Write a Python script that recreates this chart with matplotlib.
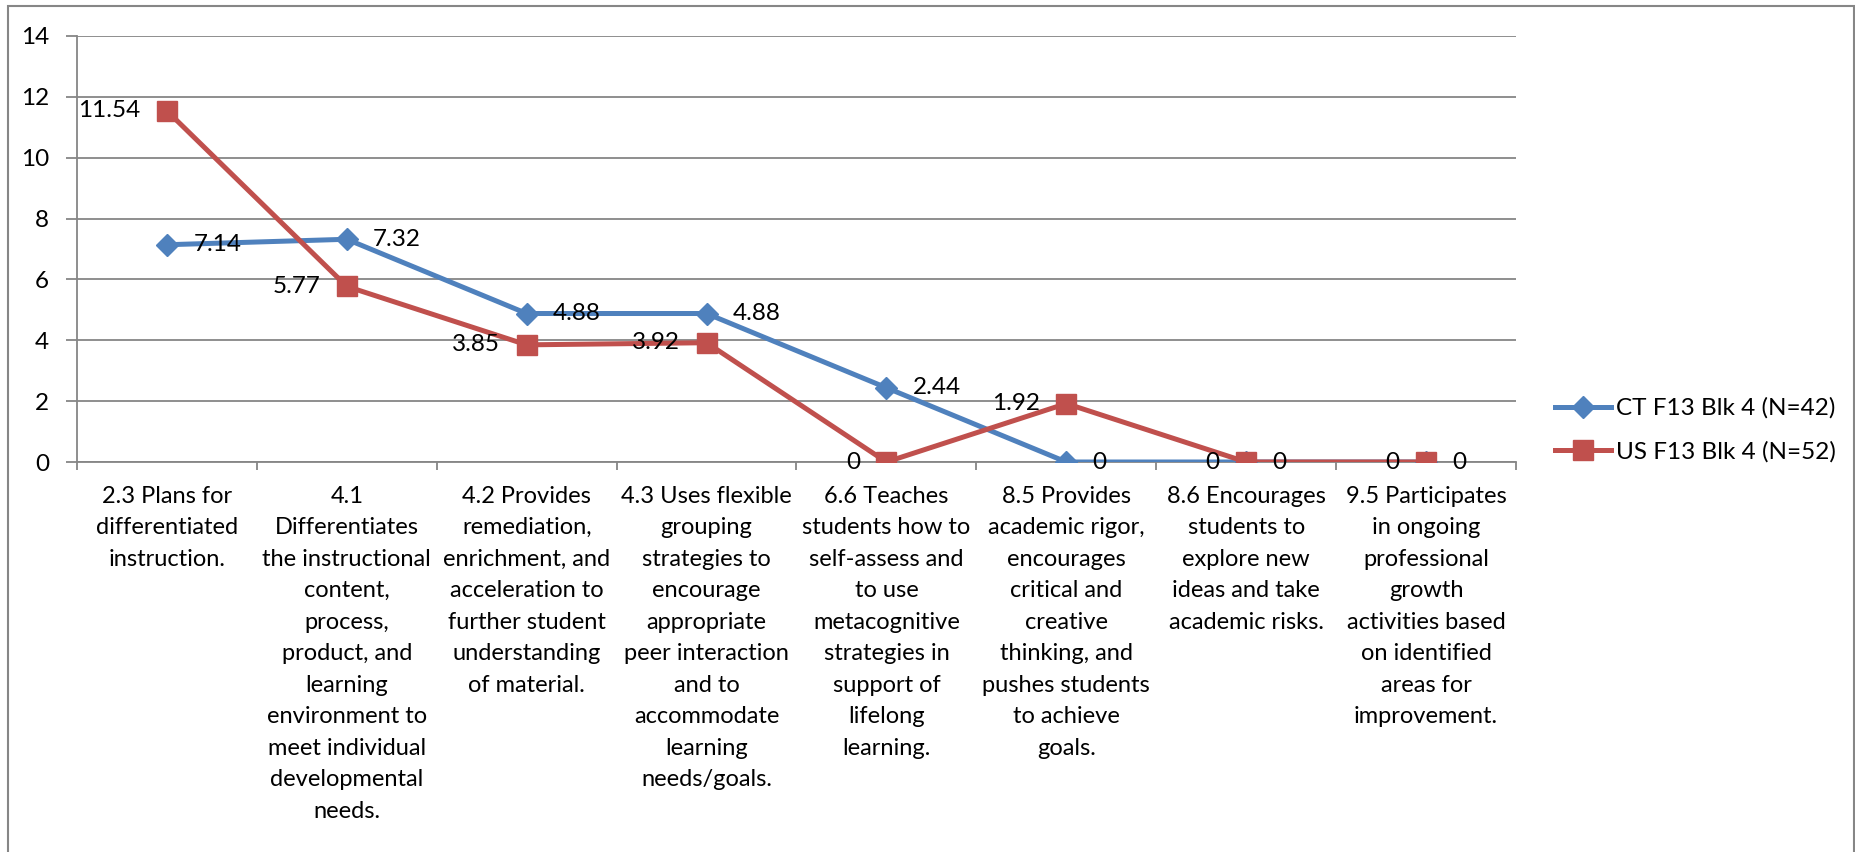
import matplotlib
matplotlib.use('Agg')
from matplotlib import pyplot as plt
from matplotlib.patches import Rectangle
import numpy as np

plt.rcParams['font.family'] = ['Lato', 'DejaVu Sans']

# Data #
categories = [
    "2.3 Plans for\ndifferentiated\ninstruction.",
    "4.1\nDifferentiates\nthe instructional\ncontent,\nprocess,\nproduct, and\nlearning\nenvironment to\nmeet individual\ndevelopmental\nneeds.",
    "4.2 Provides\nremediation,\nenrichment, and\nacceleration to\nfurther student\nunderstanding\nof material.",
    "4.3 Uses flexible\ngrouping\nstrategies to\nencourage\nappropriate\npeer interaction\nand to\naccommodate\nlearning\nneeds/goals.",
    "6.6 Teaches\nstudents how to\nself-assess and\nto use\nmetacognitive\nstrategies in\nsupport of\nlifelong\nlearning.",
    "8.5 Provides\nacademic rigor,\nencourages\ncritical and\ncreative\nthinking, and\npushes students\nto achieve\ngoals.",
    "8.6 Encourages\nstudents to\nexplore new\nideas and take\nacademic risks.",
    "9.5 Participates\nin ongoing\nprofessional\ngrowth\nactivities based\non identified\nareas for\nimprovement.",
]
ct_values = [7.14, 7.32, 4.88, 4.88, 2.44, 0, 0, 0]
us_values = [11.54, 5.77, 3.85, 3.92, 0, 1.92, 0, 0]
ct_label = "CT F13 Blk 4 (N=42)"
us_label = "US F13 Blk 4 (N=52)"

blue = '#4F81BD'
red = '#C0504D'
grey = '#868686'
fs = 17        # category labels
fs_num = 17.5  # ticks, values, legend

# Plot #
fig = plt.figure(figsize=(18.56, 8.52), dpi=100)
ax = fig.add_axes([77/1856, 1 - 462/852, (1516 - 77)/1856, (462 - 36)/852])

x = np.arange(len(categories)) + 0.5
ax.plot(x, ct_values, color=blue, lw=3.6, marker='D', ms=11.5,
        label=ct_label, zorder=3)
ax.plot(x, us_values, color=red, lw=3.6, marker='s', ms=14,
        label=us_label, zorder=3)

# Value labels #
for xi, v in zip(x, ct_values):
    ax.annotate("%g" % v, (xi, v), xytext=(19, 0), textcoords='offset points',
                ha='left', va='center', fontsize=fs_num, zorder=4)
for xi, v in zip(x, us_values):
    ax.annotate("%g" % v, (xi, v), xytext=(-19, 0), textcoords='offset points',
                ha='right', va='center', fontsize=fs_num, zorder=4)

# Axes #
ax.set_xlim(0, len(categories))
ax.set_ylim(0, 14)
ax.set_yticks(np.arange(0, 15, 2))
ax.set_xticks(np.arange(0, len(categories) + 1))
ax.set_xticklabels([])
ax.set_xticks(x, minor=True)
ax.set_xticklabels(categories, minor=True, fontsize=fs, linespacing=1.62,
                   multialignment='center', va='top')
ax.tick_params(axis='x', which='major', length=6, width=1.3, color=grey, direction='out')
ax.tick_params(axis='x', which='minor', length=0, pad=17)
ax.tick_params(axis='y', length=8, width=1.3, color=grey, direction='out',
               labelsize=fs_num, pad=12)
ax.grid(axis='y', color=grey, lw=1.3)
ax.set_axisbelow(True)
for side in ['top', 'right']:
    ax.spines[side].set_visible(False)
for side in ['left', 'bottom']:
    ax.spines[side].set_color(grey)
    ax.spines[side].set_linewidth(1.3)

# Legend #
ax.legend(loc='center left', bbox_to_anchor=(1555/1856, 1 - 430/852),
          bbox_transform=fig.transFigure, frameon=False, fontsize=fs_num,
          handlelength=2.3, handletextpad=0.2, labelspacing=0.9,
          borderpad=0, borderaxespad=0)

# Outer border #
fig.patches.append(Rectangle((8/1856, -0.1), (1854 - 8)/1856, 1.1 - 6/852,
                             transform=fig.transFigure, fill=False,
                             edgecolor=grey, lw=1.5))

fig.savefig('out.png', dpi=100)
